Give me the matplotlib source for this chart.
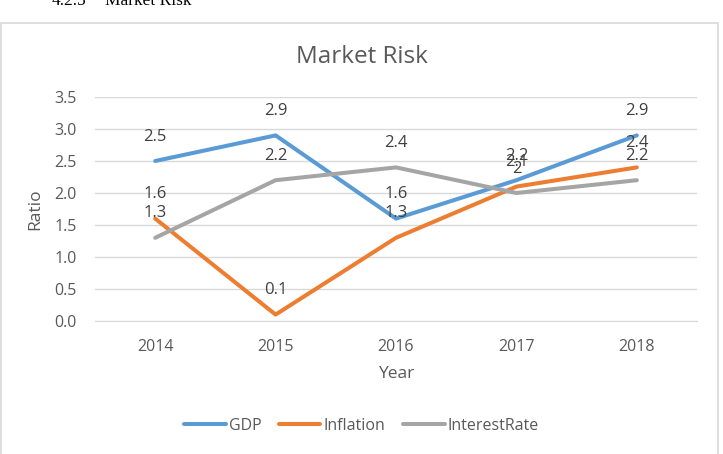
import matplotlib
matplotlib.use("Agg")
import matplotlib.pyplot as plt
from matplotlib.patches import Rectangle

years = ["2014", "2015", "2016", "2017", "2018"]
gdp = [2.5, 2.9, 1.6, 2.2, 2.9]
inflation = [1.6, 0.1, 1.3, 2.1, 2.4]
interest = [1.3, 2.2, 2.4, 2.0, 2.2]
series_names = ["GDP", "Inflation", "InterestRate"]
yticks = [0.0, 0.5, 1.0, 1.5, 2.0, 2.5, 3.0, 3.5]

colors = ["#5B9BD5", "#ED7D31", "#A5A5A5"]
text_color = "#595959"
plt.rcParams['font.family'] = ['Open Sans', 'DejaVu Sans']

W, H = 723, 454
fig = plt.figure(figsize=(W / 100, H / 100), dpi=100)

# chart border
fig.patches.append(Rectangle((1 / W, -0.05), 717 / W, 1 - 23 / H + 0.05,
                             transform=fig.transFigure, fill=False,
                             edgecolor="#D9D9D9", linewidth=1.2))
# document heading (cut off at the top)
fig.text(52 / W, 1 - 5 / H, "4.2.5", family="Liberation Serif",
         fontsize=12.5, color="black", va="baseline", ha="left")
fig.text(105 / W, 1 - 5 / H, "Market Risk", family="Liberation Serif",
         fontsize=12.5, color="black", va="baseline", ha="left")

left, right, bottom, top = 95, 697, 321, 97
ax = fig.add_axes([left / W, 1 - bottom / H, (right - left) / W, (bottom - top) / H])
x = [i + 0.5 for i in range(len(years))]

for vals, c, name in zip([gdp, inflation, interest], colors, series_names):
    ax.plot(x, vals, color=c, linewidth=2.9, label=name, solid_capstyle="round", zorder=3)
    for xi, v in zip(x, vals):
        lab = f"{v:g}"
        ax.annotate(lab, (xi, v), xytext=(0, 17.5), textcoords="offset points",
                    ha="center", va="center", fontsize=12, color="#404040", zorder=4)

ax.set_xlim(0, len(years))
ax.set_ylim(0, 3.5)
ax.set_yticks(yticks)
ax.set_yticklabels([f"{t:.1f}" for t in yticks])
ax.set_xticks(x)
ax.set_xticklabels(years)
ax.tick_params(axis="both", length=0, labelsize=11.5, labelcolor=text_color)
ax.tick_params(axis="y", pad=13)
ax.tick_params(axis="x", pad=13)
ax.grid(axis="y", color="#D9D9D9", linewidth=1)
ax.set_axisbelow(True)
for s in ["top", "right", "left"]:
    ax.spines[s].set_visible(False)
ax.spines["bottom"].set_color("#D9D9D9")

ax.set_xlabel("Year", fontsize=12.5, color=text_color, labelpad=8)
ax.set_ylabel("Ratio", fontsize=12.5, color=text_color, labelpad=8)

fig.text(0.5, 1 - 57 / H, "Market Risk", ha="center",
         va="center", fontsize=17.5, color=text_color)

fig.legend(loc="center", bbox_to_anchor=(0.5, 1 - 426 / H), ncol=3, frameon=False,
           fontsize=11.5, handlelength=2.6, handletextpad=0.2, columnspacing=1.1,
           labelcolor=text_color)

fig.savefig("out.png", dpi=100, facecolor="white")
